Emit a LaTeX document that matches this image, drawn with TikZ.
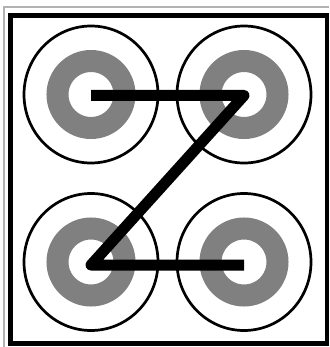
\documentclass[tikz,border=0pt]{standalone}
\begin{document}
\begin{tikzpicture}[x=1pt,y=-1pt,
  ring/.style={draw=black,line width=2.7pt},
  band/.style={draw={rgb,255:red,128;green,128;blue,128},line width=22pt},
  zline/.style={draw=black,line width=11pt,line join=round,line cap=butt}]
\useasboundingbox (0,0) rectangle (329,347);
\fill[white] (0,0) rectangle (329,347);
% page border
\draw[draw=black!30,line width=1.3pt] (4,347) -- (4,7) -- (329,7);
% black frame
\draw[line width=4.6pt] (10.3,15.5) rectangle (327,343.3);
% dot centres
\coordinate (tl) at (91,94.5);
\coordinate (tr) at (244,94.5);
\coordinate (bl) at (91,262);
\coordinate (br) at (244,262);
\foreach \c in {tl,tr,bl,br}{
  \draw[ring] (\c) ellipse [x radius=67, y radius=68.5];
  \draw[band] (\c) circle [radius=33.5];
}
\draw[zline] ([yshift=-1]tl) -- ([yshift=-1]tr) -- ([yshift=-3]bl) -- ([yshift=-3]br);
\end{tikzpicture}
\end{document}
